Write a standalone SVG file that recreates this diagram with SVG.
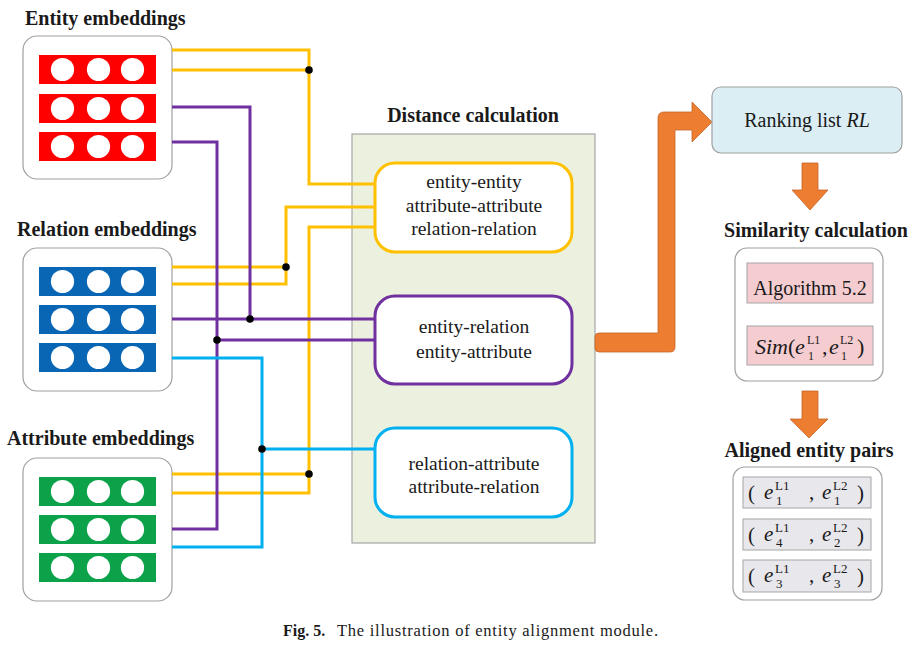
<svg xmlns="http://www.w3.org/2000/svg" width="917" height="645" viewBox="0 0 917 645" font-family="'Liberation Serif', 'DejaVu Serif', serif">
<style>
text{font-family:'Liberation Serif','DejaVu Serif',serif;fill:#1a1a1a}
.title{font-size:20px;font-weight:bold}
.lbl{font-size:19.5px;text-anchor:middle}
.frame{fill:#fff;stroke:#a0a0a0;stroke-width:1.2}
.wire{fill:none;stroke-width:3}
.y{stroke:#FFC000}.p{stroke:#7030A0}.c{stroke:#00B0F0}
.dot{fill:#000}
.red{fill:#FF0000}.blue{fill:#0866B4}.green{fill:#0BA24A}
.hole{fill:#fff}
.pink{fill:#F5CDD0;stroke:#A6A6A6;stroke-width:1}
.gray{fill:#E8E7EC;stroke:#A6A6A6;stroke-width:1}
.orange{fill:#ED7D31;stroke:#C4652A;stroke-width:0.8}
.it{font-style:italic}
.sm{font-size:13px}
.xs{font-size:12px}
</style>
<defs>
<g id="holes">
<circle class="hole" cx="23.5" cy="14.5" r="11.6"/>
<circle class="hole" cx="59.5" cy="14.5" r="11.6"/>
<circle class="hole" cx="93.5" cy="14.5" r="11.6"/>
</g>
</defs>

<g id="entity-embeddings">
<text class="title" x="25" y="25">Entity embeddings</text>
<rect class="frame" x="23" y="36" width="149" height="143" rx="14"/>
<rect class="red" x="39" y="55" width="117" height="29"/><use href="#holes" x="39" y="55"/>
<rect class="red" x="39" y="94" width="117" height="29"/><use href="#holes" x="39" y="94"/>
<rect class="red" x="39" y="132" width="117" height="29"/><use href="#holes" x="39" y="132"/>
</g>

<g id="relation-embeddings">
<text class="title" x="17" y="236">Relation embeddings</text>
<rect class="frame" x="23" y="248" width="149" height="143" rx="14"/>
<rect class="blue" x="39" y="267" width="117" height="29"/><use href="#holes" x="39" y="267"/>
<rect class="blue" x="39" y="305" width="117" height="29"/><use href="#holes" x="39" y="305"/>
<rect class="blue" x="39" y="343" width="117" height="29"/><use href="#holes" x="39" y="343"/>
</g>

<g id="attribute-embeddings">
<text class="title" x="7" y="445">Attribute embeddings</text>
<rect class="frame" x="23" y="458" width="149" height="143" rx="14"/>
<rect class="green" x="39" y="477" width="117" height="29"/><use href="#holes" x="39" y="477"/>
<rect class="green" x="39" y="515" width="117" height="29"/><use href="#holes" x="39" y="515"/>
<rect class="green" x="39" y="553" width="117" height="29"/><use href="#holes" x="39" y="553"/>
</g>

<g id="distance-calculation">
<text class="title" x="473" y="122" text-anchor="middle">Distance calculation</text>
<rect x="352" y="134" width="243" height="409" fill="#EBF1DE" stroke="#A6A6A6" stroke-width="1.2"/>
</g>

<g id="connectors">
<path class="wire y" d="M172,50 H309 V184 H376"/>
<path class="wire y" d="M172,70 H309"/>
<path class="wire y" d="M172,267 H286"/>
<path class="wire y" d="M172,284 H286 V207 H376"/>
<path class="wire y" d="M172,474 H309"/>
<path class="wire y" d="M172,493 H309 V227 H376"/>
<path class="wire p" d="M172,107 H250 V319"/>
<path class="wire p" d="M172,319 H376"/>
<path class="wire p" d="M172,142 H217 V529 H172"/>
<path class="wire p" d="M217,340 H376"/>
<path class="wire c" d="M172,358 H262 V547 H172"/>
<path class="wire c" d="M262,449 H376"/>
<circle class="dot" cx="309" cy="70" r="3.8"/>
<circle class="dot" cx="286" cy="267" r="3.8"/>
<circle class="dot" cx="250" cy="319" r="3.8"/>
<circle class="dot" cx="217" cy="340" r="3.8"/>
<circle class="dot" cx="262" cy="449" r="3.8"/>
<circle class="dot" cx="309" cy="474" r="3.8"/>
<path class="orange" d="M595,337 Q595,333 599,333 H658 V118 Q658,112 664,112 H692 V102 L712,122 L692,142 V130 H675 V347 Q675,352 670,352 H599 Q595,352 595,348 Z"/>
<path class="orange" d="M802,163 H818 V190 H828 L810,210 L792,190 H802 Z"/>
<path class="orange" d="M802,391 H818 V419 H828 L809,438 L790,419 H802 Z"/>
</g>

<g id="same-type">
<rect x="375" y="163" width="197" height="89" rx="20" fill="#fff" stroke="#FFC000" stroke-width="3"/>
<text class="lbl" x="474" y="188">entity-entity</text>
<text class="lbl" x="474" y="212">attribute-attribute</text>
<text class="lbl" x="474" y="235">relation-relation</text>
</g>

<g id="entity-cross">
<rect x="375" y="296" width="197" height="88" rx="20" fill="#fff" stroke="#7030A0" stroke-width="3"/>
<text class="lbl" x="474" y="333">entity-relation</text>
<text class="lbl" x="474" y="358">entity-attribute</text>
</g>

<g id="relation-attribute">
<rect x="375" y="428" width="197" height="89" rx="20" fill="#fff" stroke="#00B0F0" stroke-width="3"/>
<text class="lbl" x="474" y="470">relation-attribute</text>
<text class="lbl" x="474" y="493">attribute-relation</text>
</g>

<g id="ranking-list">
<rect x="712" y="87" width="190" height="66" rx="9" fill="#DBEEF4" stroke="#A0A0A0" stroke-width="1.2"/>
<text x="807" y="127" text-anchor="middle" font-size="20">Ranking list <tspan class="it">RL</tspan></text>
</g>

<g id="similarity-calculation">
<text class="title" x="816" y="237" text-anchor="middle">Similarity calculation</text>
<rect class="frame" x="735" y="248" width="148" height="133" rx="12"/>
<rect class="pink" x="747" y="263" width="126" height="40"/>
<text x="810" y="295" text-anchor="middle" font-size="20">Algorithm 5.2</text>
<rect class="pink" x="747" y="326" width="126" height="39"/>
<text font-size="22"><tspan class="it" x="755" y="354">Sim</tspan><tspan x="788" y="354">(</tspan><tspan class="it" x="795" y="354">e</tspan><tspan class="xs" x="807" y="344">L1</tspan><tspan class="xs" x="808" y="360">1</tspan><tspan x="822" y="354">,</tspan><tspan class="it" x="829" y="354">e</tspan><tspan class="xs" x="840" y="344">L2</tspan><tspan class="xs" x="841" y="360">1</tspan><tspan x="857" y="354">)</tspan></text>
</g>

<g id="aligned-entity-pairs">
<text class="title" x="809" y="457" text-anchor="middle">Aligned entity pairs</text>
<rect class="frame" x="733" y="467" width="149" height="133" rx="12"/>
<rect class="gray" x="743" y="477" width="128" height="31"/>
<text font-size="21"><tspan x="748" y="500">(</tspan><tspan class="it" x="764" y="499">e</tspan><tspan class="sm" x="775" y="490">L1</tspan><tspan class="sm" x="776" y="505">1</tspan><tspan x="809" y="499">,</tspan><tspan class="it" x="822" y="499">e</tspan><tspan class="sm" x="833" y="490">L2</tspan><tspan class="sm" x="834" y="505">1</tspan><tspan x="857" y="500">)</tspan></text>
<rect class="gray" x="743" y="519" width="128" height="31"/>
<text font-size="21"><tspan x="748" y="542">(</tspan><tspan class="it" x="764" y="541">e</tspan><tspan class="sm" x="775" y="532">L1</tspan><tspan class="sm" x="776" y="547">4</tspan><tspan x="809" y="541">,</tspan><tspan class="it" x="822" y="541">e</tspan><tspan class="sm" x="833" y="532">L2</tspan><tspan class="sm" x="834" y="547">2</tspan><tspan x="857" y="542">)</tspan></text>
<rect class="gray" x="743" y="560" width="128" height="32"/>
<text font-size="21"><tspan x="748" y="583">(</tspan><tspan class="it" x="764" y="582">e</tspan><tspan class="sm" x="775" y="573">L1</tspan><tspan class="sm" x="776" y="588">3</tspan><tspan x="809" y="582">,</tspan><tspan class="it" x="822" y="582">e</tspan><tspan class="sm" x="833" y="573">L2</tspan><tspan class="sm" x="834" y="588">3</tspan><tspan x="857" y="583">)</tspan></text>
</g>

<g id="caption">
<text x="283" y="636" font-size="16" font-weight="bold">Fig. 5.</text>
<text x="337" y="636" font-size="16.5" textLength="321" lengthAdjust="spacing">The illustration of entity alignment module.</text>
</g>
</svg>
